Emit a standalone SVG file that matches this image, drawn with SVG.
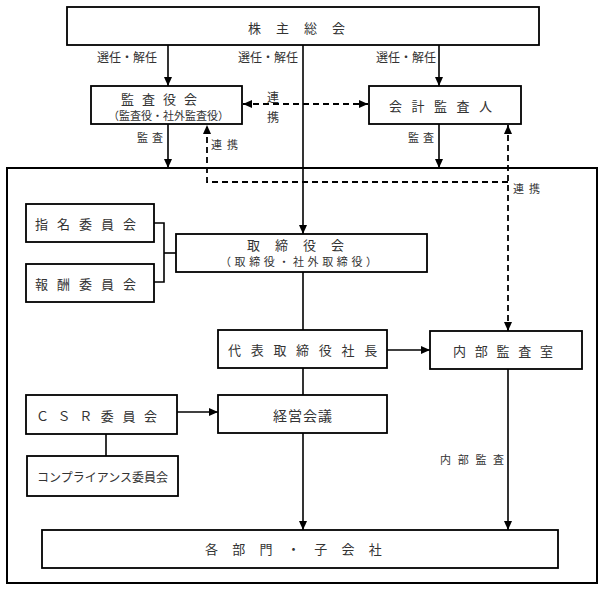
<svg xmlns="http://www.w3.org/2000/svg" width="604" height="590" viewBox="0 0 604 590">
<defs>
<style>
.box{fill:#fff;stroke:#000;stroke-width:1.8}
.t{font-family:"Noto Sans CJK JP","Noto Sans CJK SC",sans-serif;fill:#333;dominant-baseline:central}
.ln{fill:none;stroke:#000;stroke-width:1.6}
.ds{fill:none;stroke:#000;stroke-width:1.8;stroke-dasharray:6 4}
.arr{marker-end:url(#ah)}
.arr2{marker-start:url(#ah);marker-end:url(#ah)}
</style>
<marker id="ah" viewBox="0 0 9 8" refX="9" refY="4" markerWidth="9" markerHeight="8" markerUnits="userSpaceOnUse" orient="auto-start-reverse">
<path d="M0,0 L9,4 L0,8 z" fill="#000"/>
</marker>
</defs>
<rect width="604" height="590" fill="#fff"/>
<g id="outer"><rect x="7" y="168" width="590" height="415" fill="none" stroke="#000" stroke-width="2"/></g>
<g id="connectors">
<line class="ln arr" x1="168" y1="45" x2="168" y2="86"/>
<line class="ln arr" x1="303" y1="45" x2="303" y2="234"/>
<line class="ln arr" x1="439" y1="45" x2="439" y2="86"/>
<line class="ds arr2" x1="243" y1="104" x2="368" y2="104"/>
<line class="ln arr" x1="168" y1="124" x2="168" y2="168"/>
<line class="ln arr" x1="439" y1="124" x2="439" y2="168"/>
<path class="ds arr" d="M508,182 L207,182 L207,125"/>
<line class="ds arr2" x1="508" y1="125" x2="508" y2="331"/>
<polyline class="ln" points="154,223 164,223 164,282 154,282"/>
<line class="ln" x1="164" y1="253" x2="176" y2="253"/>
<line class="ln" x1="303" y1="272" x2="303" y2="330"/>
<line class="ln arr" x1="387" y1="350" x2="430" y2="350"/>
<line class="ln" x1="303" y1="368" x2="303" y2="395"/>
<line class="ln arr" x1="177" y1="412" x2="218" y2="412"/>
<line class="ln" x1="106" y1="434" x2="106" y2="456"/>
<line class="ln arr" x1="303" y1="433" x2="303" y2="530"/>
<line class="ln arr" x1="508" y1="369" x2="508" y2="530"/>
</g>
<g id="labels">
<text class="t" x="97" y="56" font-size="12">選任・解任</text>
<text class="t" x="238" y="56" font-size="12">選任・解任</text>
<text class="t" x="376" y="56" font-size="12">選任・解任</text>
<text class="t" x="267" y="96" font-size="12">連</text>
<text class="t" x="267" y="116" font-size="12">携</text>
<text class="t" x="137" y="137" font-size="11" letter-spacing="4">監査</text>
<text class="t" x="408" y="137" font-size="11" letter-spacing="4">監査</text>
<text class="t" x="211" y="144" font-size="11" letter-spacing="5">連携</text>
<text class="t" x="513" y="188" font-size="11" letter-spacing="5">連携</text>
<text class="t" x="440" y="459" font-size="11" letter-spacing="6.7">内部監査</text>
</g>
<g id="shareholders"><rect class="box" x="67" y="7" width="472" height="38"/><text class="t" x="248" y="27" font-size="13" letter-spacing="15">株主総会</text></g>
<g id="auditboard"><rect class="box" x="91" y="86" width="151" height="38"/><text class="t" x="121" y="98" font-size="13" letter-spacing="8">監査役会</text><text class="t" x="108" y="115" font-size="11">（監査役・社外監査役）</text></g>
<g id="accountant"><rect class="box" x="369" y="86" width="152" height="38"/><text class="t" x="389" y="105" font-size="13" letter-spacing="9.5">会計監査人</text></g>
<g id="nomination"><rect class="box" x="26" y="204" width="128" height="38"/><text class="t" x="35" y="223" font-size="13" letter-spacing="9">指名委員会</text></g>
<g id="remuneration"><rect class="box" x="26" y="264" width="128" height="38"/><text class="t" x="35" y="283" font-size="13" letter-spacing="9">報酬委員会</text></g>
<g id="board"><rect class="box" x="176" y="234" width="251" height="38"/><text class="t" x="247" y="244" font-size="13" letter-spacing="15">取締役会</text><text class="t" x="220" y="261" font-size="11" letter-spacing="3.6">（取締役・社外取締役）</text></g>
<g id="president"><rect class="box" x="218" y="330" width="169" height="38"/><text class="t" x="228" y="349" font-size="13" letter-spacing="9.7">代表取締役社長</text></g>
<g id="internalaudit"><rect class="box" x="430" y="331" width="152" height="38"/><text class="t" x="453" y="350" font-size="13" letter-spacing="8.75">内部監査室</text></g>
<g id="csr"><rect class="box" x="26" y="395" width="151" height="39"/><text class="t" x="36" y="415" font-size="13" letter-spacing="8.6">ＣＳＲ委員会</text></g>
<g id="management"><rect class="box" x="218" y="395" width="169" height="38"/><text class="t" x="273" y="415" font-size="14" letter-spacing="1">経営会議</text></g>
<g id="compliance"><rect class="box" x="27" y="456" width="151" height="40"/><text class="t" x="37" y="476" font-size="12">コンプライアンス委員会</text></g>
<g id="divisions"><rect class="box" x="42" y="530" width="516" height="38"/><text class="t" x="205" y="548" font-size="13" letter-spacing="14.3">各部門・子会社</text></g>
</svg>
